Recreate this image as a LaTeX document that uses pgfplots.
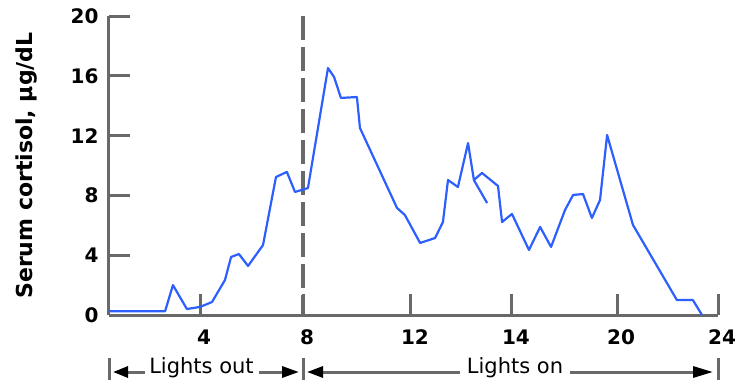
\documentclass[border=0pt]{standalone}
\usepackage{fontspec}
\setmainfont{DejaVu Sans}
\usepackage{pgfplots}
\pgfplotsset{compat=1.18}
\usetikzlibrary{arrows.meta}
\definecolor{curveblue}{RGB}{45,95,255}
\definecolor{axgray}{RGB}{105,105,105}
\begin{document}
\begin{tikzpicture}
\begin{axis}[
  scale only axis,
  width=609pt, height=299pt,
  xmin=0, xmax=24, ymin=0, ymax=20,
  axis x line*=bottom, axis y line*=left,
  axis line style={line width=3pt, draw=axgray, -},
  tick style={line width=3pt, draw=axgray},
  tick align=inside,
  major tick length=21pt,
  xtick={3.59,7.65,11.90,15.88,20.02,24},
  xticklabels={4,8,12,14,20,24},
  ytick={0,4,8,12,16,20},
  /pgf/number format/assume math mode=true,
  ticklabel style={font=\fontsize{20}{24}\selectfont\bfseries},
  xticklabel style={yshift=-11pt, xshift=4pt},
  yticklabel style={xshift=-7pt},
  every axis y label/.style={at={(rel axis cs:0,0.5)}, xshift=-82pt, rotate=90, anchor=center},
  ylabel={\fontsize{22}{26}\selectfont\bfseries Serum cortisol, µg/dL},
  clip=false,
]
\addplot[axgray, line width=4pt, dash pattern=on 24pt off 7pt] coordinates {(7.65,20) (7.65,0)};
\addplot[curveblue, line width=2.2pt, line join=round] coordinates {
(0,0.25) (2.21,0.25) (2.52,2.0) (3.07,0.4) (3.59,0.54) (4.06,0.87) (4.57,2.34)
(4.81,3.88) (5.12,4.08) (5.48,3.28) (6.07,4.68) (6.58,9.23) (7.01,9.57)
(7.33,8.23) (7.84,8.49) (8.63,16.52) (8.87,15.92) (9.14,14.52) (9.77,14.58)
(9.89,12.51) (11.35,7.16) (11.66,6.69) (12.26,4.82) (12.85,5.15) (13.16,6.22)
(13.36,9.03) (13.75,8.56) (14.15,11.5) (14.38,9.03) (14.70,9.50) (15.33,8.63)
(15.49,6.22) (15.88,6.76) (16.55,4.35) (16.99,5.89) (17.42,4.55) (17.97,7.02)
(18.29,8.03) (18.68,8.09) (19.03,6.49) (19.35,7.69) (19.63,12.04) (20.65,6.02)
(22.38,1.0) (23.01,1.0) (23.37,0.0)
};
\addplot[curveblue, line width=2.2pt] coordinates {(14.38,9.03) (14.90,7.49)};
\coordinate (O) at (rel axis cs:0,0);
\end{axis}
% annotation row under the axis (1pt = 1px of reference)
\begin{scope}[shift={(O)}]
  \foreach \bx in {0,194,609} {
    \draw[axgray, line width=3pt] (\bx pt,-43pt) -- (\bx pt,-65pt);
  }
  \draw[axgray, line width=3pt, -{Triangle[length=15pt,width=11pt,black]}] (36pt,-57pt) -- (4pt,-57pt);
  \draw[axgray, line width=3pt, -{Triangle[length=17pt,width=11pt,black]}] (150pt,-57pt) -- (190pt,-57pt);
  \node[anchor=base, inner sep=0pt, font=\fontsize{21}{25}\selectfont] at (92.5pt,-58pt) {Lights out};
  \draw[axgray, line width=3pt, -{Triangle[length=16pt,width=11pt,black]}] (351pt,-57pt) -- (198pt,-57pt);
  \draw[axgray, line width=3pt, -{Triangle[length=20pt,width=11pt,black]}] (461pt,-57pt) -- (604pt,-57pt);
  \node[anchor=base, inner sep=0pt, font=\fontsize{21}{25}\selectfont] at (406pt,-58pt) {Lights on};
\end{scope}
\pgfresetboundingbox
\path[use as bounding box] ([shift={(-109pt,-66pt)}]O) rectangle ([shift={(634pt,315pt)}]O);
\end{tikzpicture}
\end{document}
